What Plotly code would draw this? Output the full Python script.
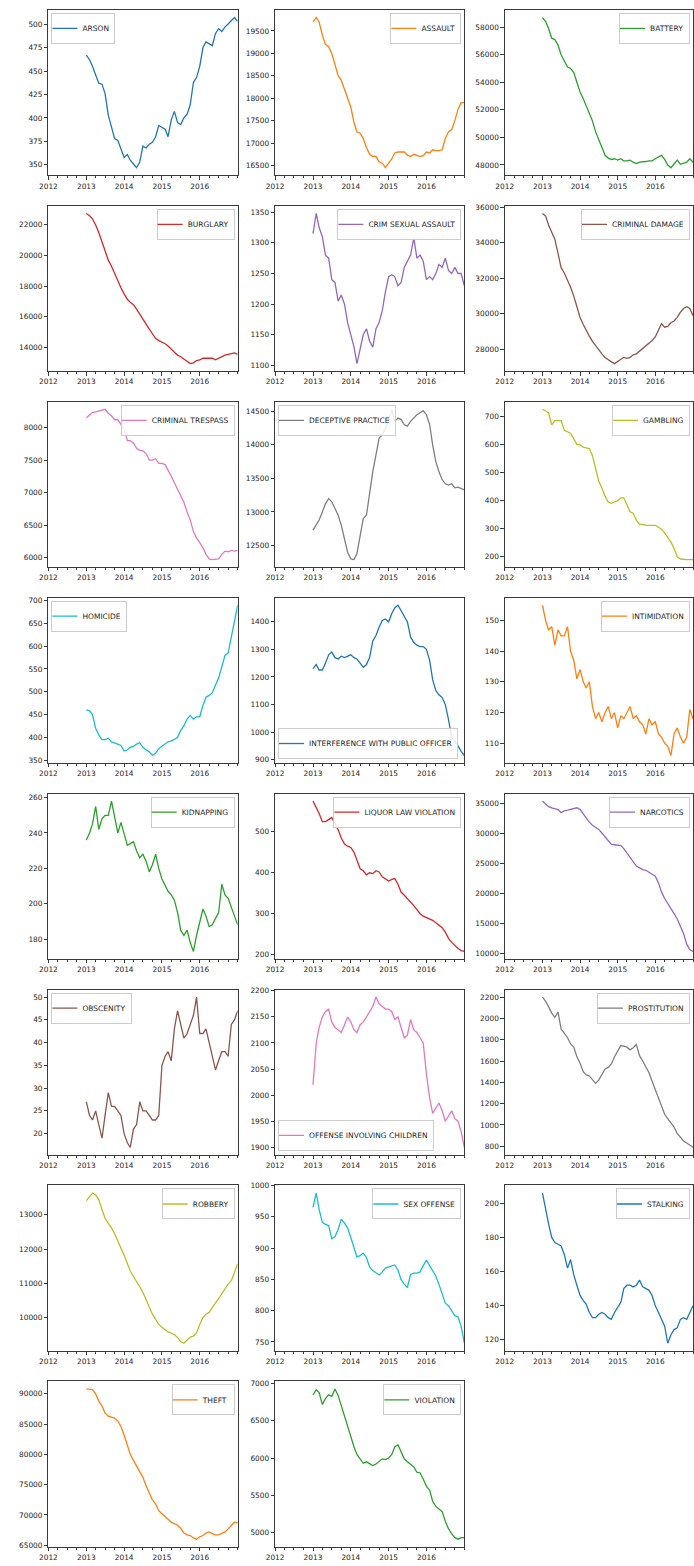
import pandas as pd
import plotly.graph_objects as go

# ---------------- data (rolling yearly counts) ----------------
DATES = pd.date_range("2013-01-01", periods=49, freq="MS")
X_TICK_LABELS = ["2012", "2013", "2014", "2015", "2016"]

CATEGORIES = [
    "ARSON", "ASSAULT", "BATTERY", "BURGLARY", "CRIM SEXUAL ASSAULT", "CRIMINAL DAMAGE",
    "CRIMINAL TRESPASS", "DECEPTIVE PRACTICE", "GAMBLING", "HOMICIDE",
    "INTERFERENCE WITH PUBLIC OFFICER", "INTIMIDATION", "KIDNAPPING", "LIQUOR LAW VIOLATION",
    "NARCOTICS", "OBSCENITY", "OFFENSE INVOLVING CHILDREN", "PROSTITUTION", "ROBBERY",
    "SEX OFFENSE", "STALKING", "THEFT", "VIOLATION",
]

ARSON = [467, 462, 455, 446, 437, 436, 426, 403, 390, 378, 376, 368,
         358, 361, 355, 351, 347, 353, 370, 368, 372, 374, 380, 392,
         390, 388, 380, 398, 407, 395, 393, 400, 404, 414, 438, 443,
         455, 475, 481, 479, 477, 490, 495, 492, 497, 500, 504, 507, 503]
ASSAULT = [19700, 19800, 19700, 19400, 19200, 19150, 19000, 18750, 18500, 18400, 18200, 18000,
           17800, 17450, 17250, 17220, 17100, 16900, 16750, 16700, 16700, 16580, 16550, 16450,
           16550, 16650, 16780, 16800, 16800, 16800, 16730, 16700, 16750, 16720, 16700, 16720,
           16800, 16780, 16850, 16830, 16830, 16850, 17100, 17250, 17300, 17500, 17750, 17900, 17900]
BATTERY = [58700, 58400, 57900, 57200, 57100, 56700, 56000, 55600, 55100, 55000, 54700, 54000,
           53300, 52800, 52300, 51800, 51200, 50400, 49800, 49200, 48700, 48500, 48400, 48450,
           48350, 48450, 48300, 48300, 48350, 48200, 48100, 48200, 48200, 48250, 48300, 48300,
           48450, 48550, 48700, 48400, 48000, 47800, 48100, 48350, 48050, 48100, 48200, 48450, 48200]
BURGLARY = [22750, 22600, 22400, 22000, 21500, 20900, 20200, 19700, 19300, 18800, 18300, 17900,
            17500, 17150, 16950, 16800, 16500, 16150, 15850, 15500, 15200, 14900, 14600, 14450,
            14350, 14250, 14100, 13900, 13700, 13500, 13400, 13250, 13100, 12950, 13000, 13150,
            13200, 13300, 13300, 13300, 13300, 13200, 13300, 13400, 13500, 13550, 13600, 13650, 13550]
CRIM_SEXUAL_ASSAULT = [1315, 1348, 1325, 1310, 1280, 1275, 1240, 1235, 1205, 1215, 1200, 1170,
                       1150, 1130, 1103, 1125, 1150, 1160, 1140, 1130, 1160, 1170, 1190, 1220,
                       1245, 1248, 1245, 1230, 1235, 1260, 1270, 1280, 1308, 1275, 1280, 1270,
                       1240, 1245, 1240, 1250, 1265, 1260, 1275, 1255, 1250, 1260, 1250, 1250, 1230]
CRIMINAL_DAMAGE = [35650, 35500, 35000, 34600, 34200, 33400, 32600, 32300, 31900, 31500, 31000, 30400,
                   29800, 29400, 29050, 28750, 28450, 28200, 27950, 27750, 27550, 27400, 27300, 27200,
                   27350, 27450, 27550, 27500, 27550, 27700, 27750, 27900, 28050, 28200, 28350, 28500,
                   28700, 29100, 29450, 29250, 29300, 29500, 29600, 29800, 30100, 30300, 30400, 30300, 29900]
CRIMINAL_TRESPASS = [8150, 8200, 8230, 8240, 8250, 8270, 8280, 8220, 8180, 8120, 8120, 8050,
                     7970, 7800, 7800, 7760, 7680, 7650, 7640, 7600, 7500, 7500, 7520, 7450,
                     7450, 7430, 7350, 7250, 7150, 7050, 6950, 6850, 6700, 6580, 6400, 6300,
                     6230, 6150, 6050, 5980, 5970, 5980, 5980, 6050, 6100, 6090, 6110, 6100, 6110]
DECEPTIVE_PRACTICE = [12730, 12800, 12880, 13000, 13120, 13200, 13150, 13050, 12950, 12800, 12600, 12400,
                      12300, 12290, 12380, 12650, 12900, 12950, 13300, 13600, 13850, 14100, 14150, 14250,
                      14350, 14530, 14350, 14400, 14380, 14300, 14280, 14350, 14400, 14450, 14480, 14510,
                      14450, 14300, 14000, 13750, 13600, 13480, 13420, 13400, 13420, 13360, 13370, 13350, 13330]
GAMBLING = [725, 720, 712, 670, 685, 685, 685, 650, 645, 640, 620, 600,
            598, 590, 588, 585, 560, 510, 470, 445, 415, 395, 390, 395,
            400, 410, 410, 385, 360, 355, 330, 315, 315, 312, 312, 310,
            312, 305, 298, 285, 268, 252, 230, 200, 192, 190, 190, 190, 190]
HOMICIDE = [460, 458, 450, 420, 405, 395, 395, 398, 390, 388, 385, 382,
            370, 372, 378, 380, 385, 388, 378, 372, 368, 360, 365, 375,
            380, 385, 390, 392, 395, 400, 415, 425, 440, 448, 440, 445,
            445, 470, 488, 492, 498, 515, 530, 555, 580, 585, 620, 660, 690]
INTERFERENCE_WITH_PUBLIC_OFFICER = [1230, 1245, 1225, 1225, 1250, 1280, 1290, 1270, 1265, 1275, 1270, 1275,
                                    1280, 1270, 1265, 1250, 1235, 1245, 1270, 1330, 1350, 1380, 1405, 1410,
                                    1400, 1430, 1450, 1460, 1440, 1420, 1400, 1345, 1325, 1315, 1310, 1310,
                                    1300, 1260, 1190, 1150, 1135, 1125, 1100, 1045, 980, 965, 950, 930, 915]
INTIMIDATION = [155, 150, 147, 148, 142, 147, 145, 145, 148, 140, 137, 131,
                134, 130, 128, 130, 122, 118, 120, 117, 120, 122, 118, 120,
                115, 119, 118, 120, 122, 118, 119, 117, 116, 113, 118, 116,
                117, 113, 112, 110, 109, 106, 113, 115, 112, 110, 112, 121, 118]
KIDNAPPING = [236, 240, 245, 255, 242, 248, 250, 250, 258, 250, 240, 246,
              240, 233, 234, 235, 230, 226, 228, 224, 218, 222, 228, 220,
              214, 210, 207, 205, 202, 195, 185, 182, 185, 178, 173, 182,
              190, 197, 193, 187, 188, 192, 195, 211, 205, 203, 198, 193, 188]
LIQUOR_LAW_VIOLATION = [575, 560, 545, 525, 525, 530, 535, 520, 505, 485, 470, 465,
                        462, 450, 430, 410, 405, 395, 400, 398, 405, 402, 390, 385,
                        380, 384, 386, 372, 353, 345, 337, 330, 320, 310, 300, 294,
                        290, 288, 284, 278, 272, 266, 255, 240, 230, 222, 215, 210, 208]
NARCOTICS = [35400, 35000, 34500, 34300, 34200, 34000, 33500, 33800, 33900, 34000, 34200, 34300,
             34000, 33300, 32500, 31900, 31400, 31100, 30700, 30100, 29400, 28800, 28200, 28150,
             28100, 28000, 27500, 26800, 26000, 25300, 24600, 24300, 24000, 23900, 23600, 23300,
             22900, 21800, 20300, 19200, 18300, 17400, 16700, 15800, 14600, 13400, 11600, 10700, 10400]
OBSCENITY = [27, 24, 23, 25, 22, 19, 24, 29, 26, 26, 25, 24,
             20, 18, 17, 21, 22, 27, 25, 25, 24, 23, 23, 24,
             35, 37, 38, 36, 43, 47, 44, 41, 42, 44, 46, 50,
             42, 42, 43, 40, 37, 34, 36, 38, 38, 37, 44, 45, 47]
OFFENSE_INVOLVING_CHILDREN = [2020, 2100, 2130, 2150, 2160, 2165, 2140, 2130, 2125, 2120, 2135, 2150,
                              2140, 2125, 2120, 2135, 2140, 2150, 2160, 2170, 2188, 2175, 2170, 2165,
                              2165, 2160, 2145, 2150, 2130, 2110, 2115, 2145, 2125, 2120, 2110, 2100,
                              2040, 1995, 1965, 1975, 1985, 1970, 1950, 1960, 1970, 1955, 1950, 1930, 1900]
PROSTITUTION = [2200, 2160, 2110, 2050, 2010, 2060, 1900, 1860, 1820, 1760, 1730, 1640,
                1580, 1500, 1470, 1460, 1420, 1390, 1420, 1480, 1525, 1540, 1573, 1640,
                1700, 1745, 1740, 1730, 1705, 1725, 1755, 1650, 1600, 1540, 1490, 1410,
                1330, 1240, 1160, 1100, 1060, 1020, 980, 920, 880, 850, 830, 810, 790]
ROBBERY = [13420, 13550, 13640, 13580, 13450, 13150, 12900, 12750, 12620, 12450, 12250, 12050,
           11820, 11580, 11360, 11200, 11070, 10900, 10740, 10520, 10300, 10100, 9950, 9800,
           9720, 9650, 9580, 9550, 9500, 9420, 9300, 9250, 9350, 9430, 9460, 9550,
           9800, 10000, 10100, 10150, 10300, 10420, 10550, 10700, 10850, 10980, 11080, 11350, 11570]
SEX_OFFENSE = [965, 988, 962, 941, 938, 936, 915, 918, 930, 946, 940, 932,
               917, 900, 886, 888, 892, 885, 870, 864, 860, 857, 862, 868,
               870, 872, 873, 865, 850, 842, 837, 858, 860, 860, 862, 872,
               881, 872, 864, 855, 842, 825, 812, 808, 800, 792, 790, 775, 748]
STALKING = [206, 196, 188, 180, 177, 176, 175, 170, 162, 167, 158, 152,
            146, 143, 141, 136, 133, 133, 135, 136, 135, 133, 132, 136,
            139, 142, 150, 152, 152, 151, 152, 155, 151, 150, 149, 146,
            140, 136, 132, 128, 118, 123, 126, 127, 132, 133, 132, 136, 140]
THEFT = [90800, 90700, 90700, 90000, 88800, 88000, 86800, 86300, 86100, 86000, 85500, 84600,
         83200, 81500, 80000, 79000, 78000, 77000, 76200, 74800, 73500, 72500, 71800, 70700,
         70200, 69800, 69300, 68800, 68500, 68300, 67800, 67000, 66700, 66600, 66200, 66000,
         66400, 66600, 67000, 67200, 66900, 66700, 66700, 66900, 67200, 67700, 68200, 68800, 68700]
VIOLATION = [6850, 6920, 6880, 6720, 6800, 6850, 6830, 6930, 6840, 6700, 6580, 6450,
             6300, 6150, 6050, 5980, 5930, 5950, 5930, 5900, 5920, 5960, 5990, 5980,
             6000, 6050, 6150, 6180, 6080, 5990, 5950, 5920, 5880, 5810, 5800, 5720,
             5620, 5570, 5420, 5350, 5320, 5280, 5150, 5050, 4980, 4930, 4910, 4930, 4930]

SERIES = [ARSON, ASSAULT, BATTERY, BURGLARY, CRIM_SEXUAL_ASSAULT, CRIMINAL_DAMAGE,
          CRIMINAL_TRESPASS, DECEPTIVE_PRACTICE, GAMBLING, HOMICIDE,
          INTERFERENCE_WITH_PUBLIC_OFFICER, INTIMIDATION, KIDNAPPING, LIQUOR_LAW_VIOLATION,
          NARCOTICS, OBSCENITY, OFFENSE_INVOLVING_CHILDREN, PROSTITUTION, ROBBERY,
          SEX_OFFENSE, STALKING, THEFT, VIOLATION]

Y_TICK_STEP = [25, 500, 2000, 2000, 50, 2000, 500, 500, 100, 50, 100, 10, 20, 100,
               5000, 5, 50, 200, 1000, 50, 20, 5000, 500]

# ---------------- styling / layout ----------------
TAB10 = ["#1f77b4", "#ff7f0e", "#2ca02c", "#d62728", "#9467bd",
         "#8c564b", "#e377c2", "#7f7f7f", "#bcbd22", "#17becf"]
LEGEND_LOC = ["ul", "ur", "ur", "ur", "ur", "ur", "ur", "ul", "ur", "ul", "ll", "ur",
              "ur", "ur", "ur", "ul", "ll", "ur", "ur", "ur", "ur", "ur", "ur"]

W, H = 694, 1566
COL_PX = [(40, 232), (270, 462), (503, 694)]
ROW_TOP0, ROW_PITCH, ROW_H = 6, 196.8, 166
FONT = "DejaVu Sans"
AX_COLOR = "#3a3a3a"
TXT_COLOR = "#262626"

fig = go.Figure()
layout = dict(
    width=W, height=H, margin=dict(l=0, r=0, t=0, b=0),
    paper_bgcolor="white", plot_bgcolor="white",
    font=dict(family=FONT, size=7.2, color=TXT_COLOR),
    showlegend=True,
)

for i, (name, vals) in enumerate(zip(CATEGORIES, SERIES)):
    n = i + 1
    r, c = divmod(i, 3)
    left, right = COL_PX[c]
    top = ROW_TOP0 + r * ROW_PITCH
    bottom = top + ROW_H
    sfx = "" if n == 1 else str(n)
    leg_key = "legend" + sfx

    fig.add_trace(go.Scatter(
        x=DATES, y=vals, mode="lines", name=name,
        line=dict(color=TAB10[i % 10], width=1.3),
        xaxis="x" + sfx, yaxis="y" + sfx, legend=leg_key,
        showlegend=True,
    ))

    lo, hi = min(vals), max(vals)
    pad = (hi - lo) * 0.05

    layout["xaxis" + sfx] = dict(
        domain=[left / W, right / W], anchor="y" + sfx, type="date",
        range=["2012-01-01", "2017-01-01"],
        tickmode="array",
        tickvals=[f"{y}-01-01" for y in X_TICK_LABELS],
        ticktext=X_TICK_LABELS,
        ticks="outside", ticklen=3.5, tickwidth=0.8, tickcolor=AX_COLOR,
        minor=dict(dtick="M3", tick0="2012-01-01", ticks="outside", ticklen=2,
                   tickwidth=0.6, tickcolor=AX_COLOR, showgrid=False),
        showline=True, linecolor=AX_COLOR, linewidth=0.8, mirror=True,
        showgrid=False, zeroline=False,
        tickfont=dict(family=FONT, size=7.4, color=TXT_COLOR),
    )
    layout["yaxis" + sfx] = dict(
        domain=[1 - bottom / H, 1 - top / H], anchor="x" + sfx,
        range=[lo - pad, hi + pad], tick0=0, dtick=Y_TICK_STEP[i], tickformat="d",
        ticks="outside", ticklen=3.5, tickwidth=0.8, tickcolor=AX_COLOR,
        showline=True, linecolor=AX_COLOR, linewidth=0.8, mirror=True,
        showgrid=False, zeroline=False,
        tickfont=dict(family=FONT, size=7.4, color=TXT_COLOR),
    )

    loc = LEGEND_LOC[i]
    lx = (left + 3) / W if loc in ("ul", "ll") else (right - 3) / W
    ly = 1 - (top + 3) / H if loc in ("ul", "ur") else 1 - (bottom - 4) / H
    layout[leg_key] = dict(
        x=lx, y=ly,
        xanchor="left" if loc in ("ul", "ll") else "right",
        yanchor="top" if loc in ("ul", "ur") else "bottom",
        bgcolor="rgba(255,255,255,0.85)", bordercolor="#cccccc", borderwidth=1,
        font=dict(family=FONT, size=7.5, color=TXT_COLOR),
        itemwidth=30, tracegroupgap=0, indentation=-10,
    )

fig.update_layout(**layout)
fig.write_html("out.html")
